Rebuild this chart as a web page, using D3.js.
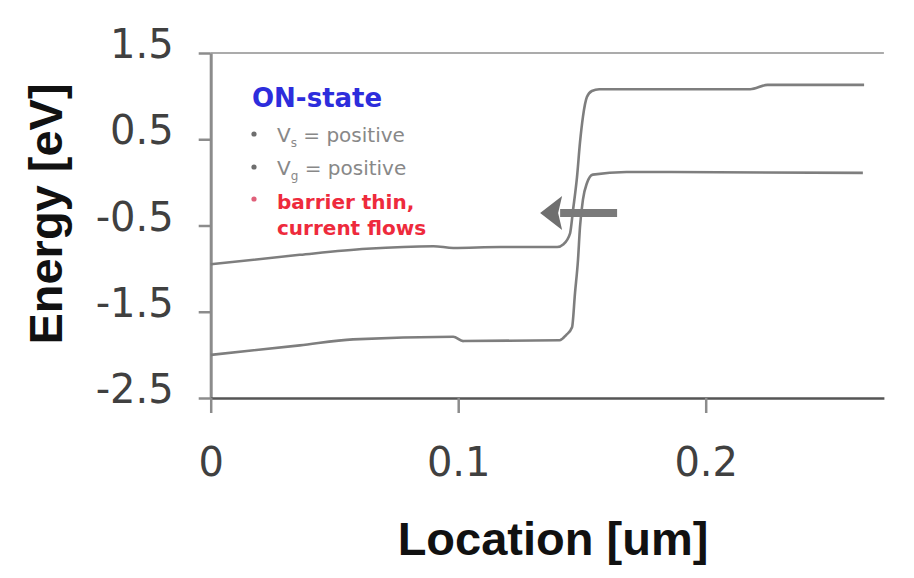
<!DOCTYPE html>
<html>
<head>
<meta charset="utf-8">
<script src="https://cdn.jsdelivr.net/npm/d3@7"></script>
<style>
  html, body { margin: 0; padding: 0; background: #ffffff; }
  svg { display: block; }
</style>
</head>
<body>
<svg id="chart" width="914" height="578"></svg>
<script>
// ---- data ----
const xTicks = [0, 0.1, 0.2];
const xTickLabels = ["0", "0.1", "0.2"];
const yTicks = [1.5, 0.5, -0.5, -1.5, -2.5];
const yTickLabels = ["1.5", "0.5", "-0.5", "-1.5", "-2.5"];

// conduction band (upper curve)
const condX = [0, 0.036, 0.063, 0.090, 0.098, 0.117, 0.140, 0.1424, 0.1452, 0.1464, 0.148, 0.1492, 0.1504, 0.152, 0.154, 0.157, 0.218, 0.225, 0.264];
const condE = [-0.95, -0.84, -0.77, -0.74, -0.76, -0.75, -0.75, -0.72, -0.59, -0.32, 0.06, 0.46, 0.76, 0.99, 1.06, 1.08, 1.08, 1.13, 1.13];

// valence band (lower curve)
const valX = [0, 0.036, 0.0575, 0.098, 0.102, 0.141, 0.1436, 0.146, 0.1472, 0.1484, 0.1492, 0.1504, 0.152, 0.1544, 0.168, 0.2635];
const valE = [-2.00, -1.89, -1.82, -1.79, -1.84, -1.83, -1.77, -1.68, -1.28, -0.90, -0.52, -0.20, -0.01, 0.09, 0.12, 0.11];

// annotation arrow (data coords): from tail to tip
const arrowX = [0.1642, 0.1331];
const arrowE = [-0.355, -0.355];

const legendTitle = "ON-state";
const legendItems = [
  { main: "V", sub: "s", rest: " = positive", kind: "gray" },
  { main: "V", sub: "g", rest: " = positive", kind: "gray" },
  { lines: ["barrier thin,", "current flows"], kind: "red" }
];

const xTitle = "Location [um]";
const yTitle = "Energy [eV]";

// ---- layout ----
const svg = d3.select("#chart");
const x = d3.scaleLinear().domain([0, 0.272]).range([210.7, 883.9]);
const y = d3.scaleLinear().domain([-2.5, 1.5]).range([398, 53]);

// top border line
svg.append("line")
  .attr("x1", x(0)).attr("x2", x(0.272))
  .attr("y1", y(1.5)).attr("y2", y(1.5))
  .attr("stroke", "#ababab").attr("stroke-width", 2);

// y axis
const yAxis = d3.axisLeft(y).tickValues(yTicks)
  .tickFormat((d, i) => yTickLabels[i])
  .tickSize(12).tickSizeOuter(0).tickPadding(25);
const gy = svg.append("g").attr("transform", `translate(${x(0)},0)`).call(yAxis);
gy.select(".domain").attr("stroke", "#8c8c8c").attr("stroke-width", 3);
gy.selectAll(".tick line").attr("stroke", "#8c8c8c").attr("stroke-width", 2.5);
gy.selectAll(".tick text")
  .attr("font-family", "DejaVu Sans").attr("font-size", 40)
  .attr("fill", "#404040").attr("dy", "4.6");

// x axis
const xAxis = d3.axisBottom(x).tickValues(xTicks)
  .tickFormat((d, i) => xTickLabels[i])
  .tickSize(15).tickSizeOuter(0);
const gx = svg.append("g").attr("transform", `translate(0,${y(-2.5)})`).call(xAxis);
gx.select(".domain").attr("stroke", "#555555").attr("stroke-width", 2.5);
gx.selectAll(".tick line").attr("stroke", "#8c8c8c").attr("stroke-width", 2.5);
gx.selectAll(".tick text")
  .attr("font-family", "DejaVu Sans").attr("font-size", 40)
  .attr("fill", "#404040").attr("y", 78).attr("dy", 0);

// curves
const line = d3.line().x(d => x(d[0])).y(d => y(d[1])).curve(d3.curveMonotoneX);
const cond = condX.map((v, i) => [v, condE[i]]);
const val = valX.map((v, i) => [v, valE[i]]);
[cond, val].forEach(pts => {
  svg.append("path").datum(pts)
    .attr("d", line)
    .attr("fill", "none")
    .attr("stroke", "#7e7e7e")
    .attr("stroke-width", 2.6)
    .attr("stroke-linejoin", "round");
});

// arrow
const ax0 = x(arrowX[0]), ax1 = x(arrowX[1]), ay = y(arrowE[0]);
const headLen = 22, headHalf = 17;
svg.append("line")
  .attr("x1", ax0).attr("x2", ax1 + headLen - 2)
  .attr("y1", ay).attr("y2", ay)
  .attr("stroke", "#7a7a7a").attr("stroke-width", 8);
svg.append("path")
  .attr("d", `M${ax1},${ay} L${ax1 + headLen},${ay - headHalf} L${ax1 + headLen - 4},${ay} L${ax1 + headLen},${ay + headHalf} Z`)
  .attr("fill", "#6f6f6f");

// legend
const lg = svg.append("g");
lg.append("text").attr("x", 252).attr("y", 107)
  .attr("font-family", "DejaVu Sans").attr("font-weight", "bold")
  .attr("font-size", 26).attr("fill", "#2d2ddc").text(legendTitle);

const baselines = [142, 175];
legendItems.forEach((it, i) => {
  if (it.kind === "gray") {
    const by = baselines[i];
    lg.append("circle").attr("cx", 254).attr("cy", by - 8).attr("r", 2.6).attr("fill", "#6e6e6e");
    const t = lg.append("text").attr("x", 277).attr("y", by)
      .attr("font-family", "DejaVu Sans").attr("font-size", 20).attr("fill", "#888888");
    t.append("tspan").text(it.main);
    t.append("tspan").attr("font-size", 12).attr("dy", 5).text(it.sub);
    t.append("tspan").attr("dy", -5).text(it.rest);
  } else {
    const bys = [209, 235];
    lg.append("circle").attr("cx", 254).attr("cy", bys[0] - 10).attr("r", 2.6).attr("fill", "#e0607a");
    it.lines.forEach((s, k) => {
      lg.append("text").attr("x", 277).attr("y", bys[k])
        .attr("font-family", "DejaVu Sans").attr("font-size", 20)
        .attr("font-weight", "bold")
        .attr("fill", "#ee2a3c").text(s);
    });
  }
});

// axis titles
svg.append("text").attr("x", 553).attr("y", 555)
  .attr("text-anchor", "middle")
  .attr("font-family", "Liberation Sans").attr("font-weight", "bold")
  .attr("font-size", 47).attr("fill", "#111111").text(xTitle);

svg.append("text")
  .attr("transform", "translate(62,214) rotate(-90)")
  .attr("text-anchor", "middle")
  .attr("font-family", "Liberation Sans").attr("font-weight", "bold")
  .attr("font-size", 47).attr("fill", "#111111").text(yTitle);
</script>
</body>
</html>
